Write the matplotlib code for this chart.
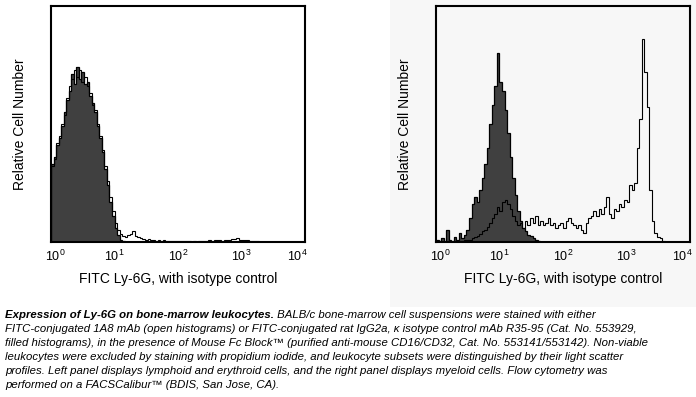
import matplotlib
matplotlib.use("Agg")
import matplotlib.pyplot as plt
import numpy as np
from matplotlib.patches import Rectangle
from matplotlib.transforms import ScaledTranslation

plt.rcParams["font.family"] = ["Liberation Sans", "DejaVu Sans"]
plt.rcParams["mathtext.fontset"] = "custom"
plt.rcParams["mathtext.rm"] = "Liberation Sans"
plt.rcParams["mathtext.it"] = "Liberation Sans:italic"

# 100 log-spaced channels over four decades (10^0 .. 10^4)
# left panel: lymphoid and erythroid cells
left_isotype = [
    33, 36, 41, 44, 49, 55, 60, 64, 71, 67,
    74, 69, 72, 67, 68, 62, 59, 55, 49, 44,
    38, 31, 24, 17, 11, 6, 3, 1, 0.3, 0,
] + [0] * 70
left_1a8 = [
    32, 35, 42, 45, 50, 54, 61, 66, 69, 73,
    70, 73, 68, 70, 66, 63, 58, 56, 50, 45,
    39, 32, 26, 19, 13, 8, 5, 3.5, 2.5, 2,
    3, 3.5, 4.5, 2.5, 2, 1.5, 1.2, 1, 1.3, 0.8,
    1, 0.6, 0.8, 0.5, 0.7, 0.5, 0.6, 0.4, 0.5, 0.4,
    0.6, 0.3, 0.4, 0.3, 0.3, 0.2, 0.3, 0.2, 0.5, 0.3,
    0.6, 0.5, 0.8, 0.6, 0.9, 0.7, 0.8, 0.6, 0.9, 1.0,
    0.8, 1.4, 1.1, 1.5, 0.9, 1.0, 0.7, 0.9, 0.5, 0.6,
    0.3, 0.4, 0.2,
] + [0] * 17
# right panel: myeloid cells
right_isotype = [
    1, 0.5, 1.5, 0.5, 5, 1, 0.5, 2, 1, 4,
    1.5, 3, 5, 10, 16, 19, 17, 22, 27, 33,
    40, 50, 58, 66, 80, 68, 64, 56, 46, 36,
    27, 20, 13, 9, 6, 4.5, 3, 2.5, 1.5, 1,
    0.5,
] + [0] * 59
right_1a8 = [
    0.5, 0.3, 0.5, 0.2, 0.3, 0.5, 0.2, 0.4, 0.3, 0.5,
    0.6, 0.8, 0.7, 1, 1.5, 2, 2.5, 3.5, 4.5, 5,
    6.5, 8, 10, 12, 15, 13, 17, 18, 16, 14,
    11, 9, 7, 8, 6, 9, 7, 10, 8, 11,
    7, 9, 7, 8, 10, 7, 8, 6, 7, 8,
    6, 9, 10, 8, 7, 6, 7, 5, 4, 8,
    10, 11, 13, 11, 14, 12, 15, 19, 12, 10,
    14, 13, 16, 15, 18, 17, 24, 22, 25, 40,
    52, 86, 72, 57, 22, 9, 4, 2, 1.5, 0.5,
] + [0] * 10

tick_values = [1, 10, 100, 1000, 10000]
x_label = "FITC Ly-6G, with isotype control"
y_label = "Relative Cell Number"

caption_bold = "Expression of Ly-6G on bone-marrow leukocytes."
caption_lines = [
    " BALB/c bone-marrow cell suspensions were stained with either",
    "FITC-conjugated 1A8 mAb (open histograms) or FITC-conjugated rat IgG2a, \u03ba isotype control mAb R35-95 (Cat. No. 553929,",
    "filled histograms), in the presence of Mouse Fc Block\u2122 (purified anti-mouse CD16/CD32, Cat. No. 553141/553142). Non-viable",
    "leukocytes were excluded by staining with propidium iodide, and leukocyte subsets were distinguished by their light scatter",
    "profiles. Left panel displays lymphoid and erythroid cells, and the right panel displays myeloid cells. Flow cytometry was",
    "performed on a FACSCalibur\u2122 (BDIS, San Jose, CA).",
]

W, H = 696, 397
fig = plt.figure(figsize=(W / 100, H / 100), dpi=100)
fig.patches.append(Rectangle((390 / W, 1 - 307 / H), 306 / W, 307 / H,
                             transform=fig.transFigure, facecolor="#f7f7f7",
                             edgecolor="none", zorder=-1))

edges = np.logspace(0, 4, 101)
panels = [(51, left_isotype, left_1a8, "white"), (436, right_isotype, right_1a8, "#f7f7f7")]
for px, iso, open_hist, face in panels:
    ax = fig.add_axes([px / W, 1 - 242 / H, 254 / W, 236 / H])
    ax.set_facecolor(face)
    ax.stairs(iso, edges, fill=True, color="#404040", zorder=2)
    ax.stairs(iso, edges, color="black", lw=0.9, zorder=3)
    ax.stairs(open_hist, edges, color="black", lw=0.8, zorder=4)
    ax.set_xscale("log")
    ax.set_xlim(1, 10000)
    ax.set_ylim(0, 100)
    ax.set_xticks(tick_values)
    ax.minorticks_off()
    ax.set_yticks([])
    ax.tick_params(axis="x", length=0, pad=5, labelsize=9)
    labels = ax.get_xticklabels()
    labels[0].set_transform(labels[0].get_transform() + ScaledTranslation(0.04, 0, fig.dpi_scale_trans))
    labels[-1].set_transform(labels[-1].get_transform() + ScaledTranslation(-0.08, 0, fig.dpi_scale_trans))
    for s in ax.spines.values():
        s.set_linewidth(1.5)
    ax.set_xlabel(x_label, fontsize=10, labelpad=6)
    ax.set_ylabel(y_label, fontsize=10, labelpad=17)

fs = 8.2
y0 = 315.5
step = 14
renderer = fig.canvas.get_renderer()
t = fig.text(5 / W, 1 - y0 / H, caption_bold, fontsize=fs, style="italic",
             weight="bold", va="center")
bb = t.get_window_extent(renderer)
fig.text(bb.x1 / W, 1 - y0 / H, caption_lines[0], fontsize=fs, style="italic", va="center")
for i, line in enumerate(caption_lines[1:], start=1):
    fig.text(5 / W, 1 - (y0 + i * step) / H, line, fontsize=fs, style="italic", va="center")

fig.savefig("out.png", dpi=100)
